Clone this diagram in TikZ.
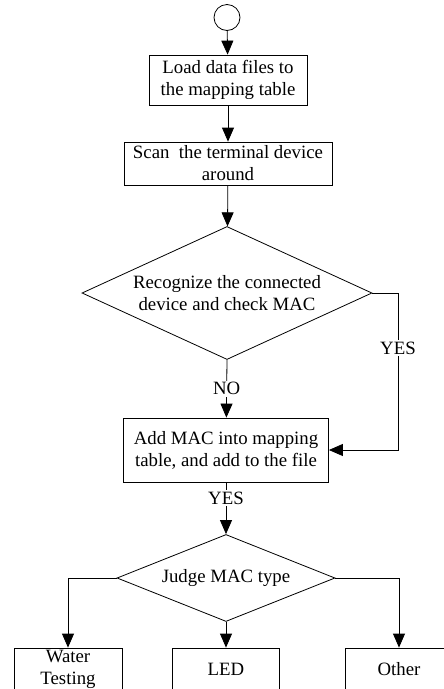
\documentclass[tikz,border=0pt]{standalone}
\usepackage{fontspec}
\setmainfont{Liberation Serif}
\usetikzlibrary{shapes.geometric,arrows.meta}

\begin{document}
\begin{tikzpicture}[x=1pt,y=-1pt,
    line width=0.8pt,
    font=\fontsize{18.8}{22}\selectfont,
    >={Triangle[width=12pt,length=14pt]},
    procbox/.style={draw,rectangle,align=center,inner sep=0pt},
    testbox/.style={draw,diamond,align=center,inner sep=0pt},
    flowlabel/.style={fill=white,inner sep=1.5pt}]
          \clip (0,0)--(444,0)--(444,689)--(0,689)--cycle;
          \fill[white] (0,0) rectangle (444,689);
          \draw node[draw,circle,inner sep=0pt,%
            minimum size=26pt] (start) at (227,17.5) {};
          \draw node[procbox,minimum width=158pt,%
            minimum height=50pt] (load) at (228,80) %
          {Load data files to\\the mapping table};
          \draw node[procbox,minimum width=208pt,%
            minimum height=43pt] (scan) at (228,163.5) %
          {Scan\ \ the terminal device\\around};
          \draw node[testbox,aspect=2.18,minimum width=290pt,%
            minimum height=133pt] (recog) at (227,293) %
          {Recognize the connected\\device and check MAC};
          \draw node[procbox,minimum width=205pt,%
            minimum height=64pt] (add) at (226,450) %
          {Add MAC into mapping\\table, and add to the file};
          \draw node[testbox,aspect=2.5,minimum width=218pt,%
            minimum height=87pt] (judge) at (226,578) %
          {Judge MAC type};
          \draw node[procbox,minimum width=108pt,%
            minimum height=42pt] (water) at (68,669) %
          {Water\\Testing};
          \draw node[procbox,minimum width=107pt,%
            minimum height=42pt] (led) at (226,669) {LED};
          \draw node[procbox,minimum width=108pt,%
            minimum height=42pt] (other) at (399,669) {Other};
          \coordinate (yestop) at (398,293);
          \coordinate (yesbot) at (398,450);
          \draw[->] (start) -- (load);
          \draw[->] (load) -- (scan);
          \draw[->] (scan) -- (recog);
          \draw[->] (recog.south) -- node[flowlabel]{NO} (add);
          \draw[->] (recog.east) -- (yestop) -- %
            node[flowlabel,pos=0.35]{YES} (yesbot) -- (add.east);
          \draw[->] (add) -- node[flowlabel,pos=0.3]{YES} (judge);
          \draw[->] (judge.west) -| (water.north);
          \draw[->] (judge.south) -- (led.north);
          \draw[->] (judge.east) -| (other.north);
        \end{tikzpicture}
\end{document}
